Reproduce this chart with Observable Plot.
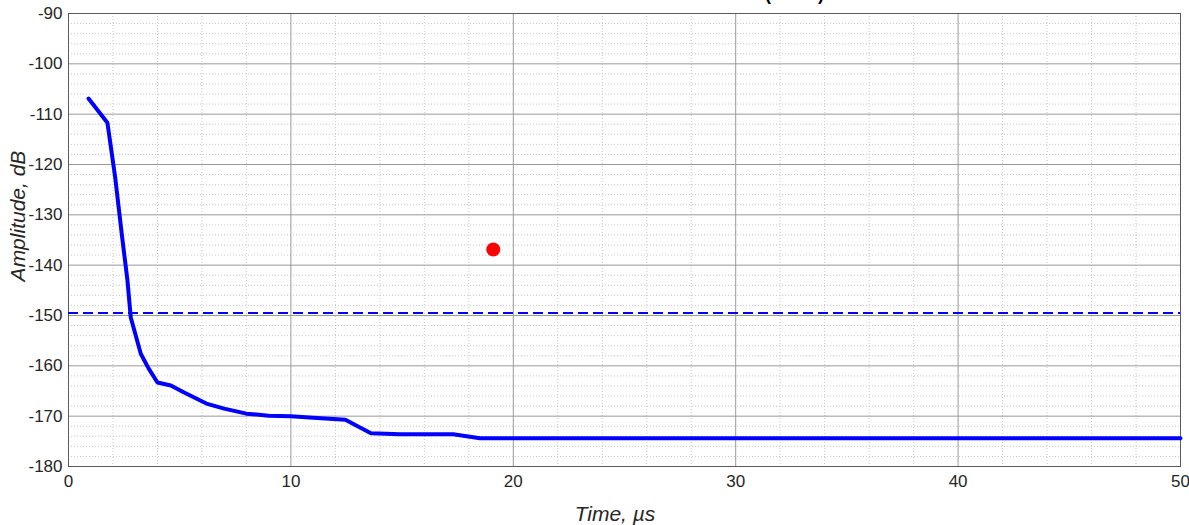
<!DOCTYPE html>
<html>
<head>
<meta charset="utf-8">
<script src="https://cdn.jsdelivr.net/npm/d3@7"></script>
<script src="https://cdn.jsdelivr.net/npm/@observablehq/plot@0.6"></script>
<style>
  body { margin: 0; background: #fff; }
  #wrap { position: relative; width: 1189px; height: 525px; overflow: hidden; font-family: "Liberation Sans", Arial, sans-serif; }
  #title { position: absolute; left: 0; top: 0; width: 1189px; height: 8px; overflow: hidden; }
  #title span { position: absolute; left: 765px; top: -15px; font-size: 18px; line-height: 18px; font-weight: bold; color: #000; white-space: nowrap; }
  .alabel { position: absolute; font-style: italic; font-size: 21px; line-height: 21px; color: #262626; white-space: nowrap; }
  #xlabel { left: 615px; top: 513px; transform: translate(-50%, -50%); }
  #ylabel { left: 17px; top: 216px; transform: translate(-50%, -50%) rotate(-90deg); }
</style>
</head>
<body>
<div id="wrap">
  <div id="chart"></div>
  <div id="title"><span>(dBFS)</span></div>
  <div class="alabel" id="xlabel">Time, µs</div>
  <div class="alabel" id="ylabel">Amplitude, dB</div>
</div>
<script>
const time = [0.9, 1.75, 2.1, 2.4, 2.65, 2.8, 3.25, 3.6, 4.0, 4.6, 5.2, 6.2, 7.0, 8.0, 9.0, 10.0, 11.0, 12.45, 13.0, 13.6, 14.9, 17.3, 18.5, 20, 30, 40, 50];
const amplitude = [-106.9, -111.7, -122.6, -134.0, -143.0, -150.4, -157.6, -160.5, -163.3, -163.9, -165.3, -167.5, -168.5, -169.5, -169.9, -170.0, -170.3, -170.7, -172.0, -173.4, -173.6, -173.6, -174.4, -174.4, -174.4, -174.4, -174.4];
const thresholdLevel = [-149.5];
const markerTime = [19.1];
const markerAmplitude = [-136.9];
const xTicks = [0, 10, 20, 30, 40, 50];
const yTicks = [-180, -170, -160, -150, -140, -130, -120, -110, -100, -90];
const xMinor = [2, 4, 6, 8, 12, 14, 16, 18, 22, 24, 26, 28, 32, 34, 36, 38, 42, 44, 46, 48];
const yMinor = [-178, -176, -174, -172, -168, -166, -164, -162, -158, -156, -154, -152, -148, -146, -144, -142, -138, -136, -134, -132, -128, -126, -124, -122, -118, -116, -114, -112, -108, -106, -104, -102, -98, -96, -94, -92];

const curve = time.map((t, i) => ({t, a: amplitude[i]}));
const marker = markerTime.map((t, i) => ({t, a: markerAmplitude[i]}));
const fmt = d => String(d);

const chart = Plot.plot({
  width: 1189,
  height: 525,
  marginLeft: 68,
  marginRight: 9,
  marginTop: 13,
  marginBottom: 59,
  x: {domain: [0, 50]},
  y: {domain: [-180, -90]},
  style: {fontFamily: "'Liberation Sans', Arial, sans-serif", fontSize: "17px", color: "#262626", background: "#fff"},
  marks: [
    Plot.gridX(xMinor, {stroke: "#c8c8c8", strokeOpacity: 1, strokeDasharray: "1,2"}),
    Plot.gridY(yMinor, {stroke: "#c8c8c8", strokeOpacity: 1, strokeDasharray: "1,2"}),
    Plot.gridX(xTicks, {stroke: "#9a9a9a", strokeOpacity: 1}),
    Plot.gridY(yTicks, {stroke: "#9a9a9a", strokeOpacity: 1}),
    Plot.axisX(xTicks, {tickSize: 0, tickPadding: 8, label: null, fontSize: 17, tickFormat: fmt}),
    Plot.axisY(yTicks, {tickSize: 0, tickPadding: 6, label: null, fontSize: 17, tickFormat: fmt}),
    Plot.frame({stroke: "#5a5a5a"}),
    Plot.ruleY(thresholdLevel, {stroke: "#0000ff", strokeWidth: 2, strokeDasharray: "10,5"}),
    Plot.line(curve, {x: "t", y: "a", stroke: "#0000ff", strokeWidth: 4, strokeLinejoin: "round", strokeLinecap: "round"}),
    Plot.dot(marker, {x: "t", y: "a", r: 7, fill: "#ff0000", stroke: "none"})
  ]
});
document.getElementById("chart").appendChild(chart);
</script>
</body>
</html>
